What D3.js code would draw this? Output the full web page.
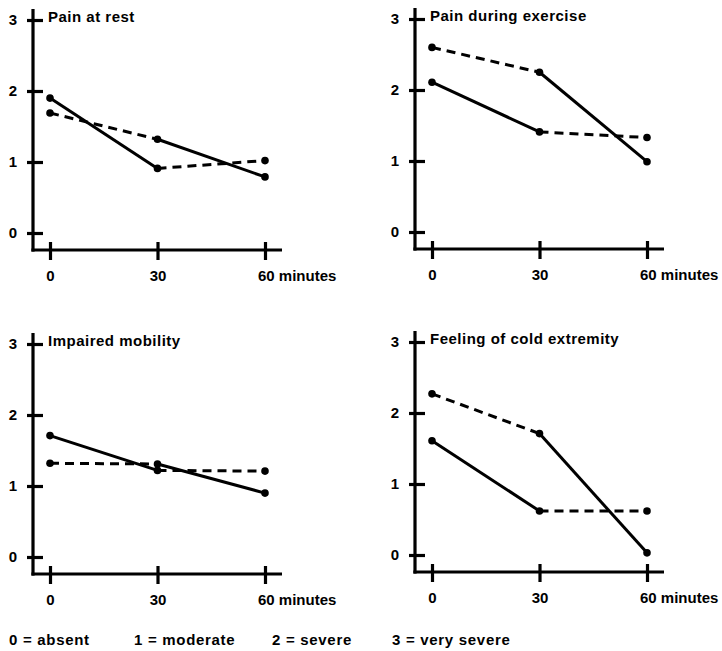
<!DOCTYPE html>
<html>
<head>
<meta charset="utf-8">
<script src="https://cdn.jsdelivr.net/npm/d3@7"></script>
<style>
  html, body { margin: 0; padding: 0; background: #fff; }
  svg text { font-family: "Liberation Sans", Arial, Helvetica, sans-serif; fill: #000; }
</style>
</head>
<body>
<svg id="chart" width="722" height="651"></svg>
<script>
// Symptom scores at 0, 30 and 60 minutes for two groups
const timePoints = [0, 30, 60];
const timeLabels = ["0", "30", "60 minutes"];
const scoreTicks = [0, 1, 2, 3];
const panelTitles = ["Pain at rest", "Pain during exercise", "Impaired mobility", "Feeling of cold extremity"];

// group A: solid first interval, dashed second
const groupA = [
  [1.90, 0.91, 1.02],
  [2.11, 1.41, 1.33],
  [1.71, 1.22, 1.21],
  [1.61, 0.62, 0.62]
];
// group B: dashed first interval, solid second
const groupB = [
  [1.69, 1.32, 0.79],
  [2.60, 2.25, 0.99],
  [1.32, 1.31, 0.90],
  [2.27, 1.71, 0.03]
];
const groupAStyles = ["solid", "dashed"];
const groupBStyles = ["dashed", "solid"];

const legendItems = ["0 = absent", "1 = moderate", "2 = severe", "3 = very severe"];

// layout
const panelAxisX = [33, 415, 33, 415];
const panelZeroY = [233, 232, 557, 555];
const legendX = [9, 134, 272, 392];
const legendY = 645;
const dash = "9,6";

const svg = d3.select("#chart");

panelTitles.forEach((title, p) => {
  const ax = panelAxisX[p];
  const zy = panelZeroY[p];
  const x = d3.scaleLinear().domain([0, 60]).range([ax + 17, ax + 232]);
  const y = d3.scaleLinear().domain([0, 3]).range([zy, zy - 213]);
  const baseY = zy + 17;
  const g = svg.append("g");

  // y axis with ticks crossing the line
  const yAxis = d3.axisLeft(y).tickValues(scoreTicks).tickFormat(d3.format("d")).tickSize(6).tickPadding(10);
  const yg = g.append("g").attr("transform", `translate(${ax},0)`).call(yAxis);
  yg.select(".domain").remove();
  yg.selectAll(".tick line").attr("x1", 10).attr("x2", -6).attr("stroke", "#000").attr("stroke-width", 3.2);
  yg.selectAll(".tick text").attr("font-size", 15).attr("font-weight", "bold").attr("x", -16);

  // x axis with ticks crossing the line
  const xAxis = d3.axisBottom(x).tickValues(timePoints).tickFormat((d, i) => timeLabels[i]).tickSize(10).tickPadding(12);
  const xg = g.append("g").attr("transform", `translate(0,${baseY})`).call(xAxis);
  xg.select(".domain").remove();
  xg.selectAll(".tick line").attr("y1", -8).attr("y2", 10).attr("stroke", "#000").attr("stroke-width", 3.2);
  xg.selectAll(".tick text").attr("font-size", 15).attr("font-weight", "bold").attr("y", 20)
    .attr("text-anchor", (d, i) => i === timePoints.length - 1 ? "start" : "middle")
    .attr("dx", (d, i) => i === timePoints.length - 1 ? "-0.5em" : 0);

  // axis lines
  g.append("line").attr("x1", ax).attr("x2", ax).attr("y1", y(3) - 11).attr("y2", baseY + 1.6)
    .attr("stroke", "#000").attr("stroke-width", 3.2);
  g.append("line").attr("x1", ax - 1.6).attr("x2", x(60) + 17).attr("y1", baseY).attr("y2", baseY)
    .attr("stroke", "#000").attr("stroke-width", 3.2);

  // panel title
  g.append("text").attr("x", ax + 15).attr("y", y(3) + 2)
    .attr("font-size", 15).attr("font-weight", "bold").attr("letter-spacing", 0.5)
    .text(title);

  // series segments and points
  [[groupA[p], groupAStyles], [groupB[p], groupBStyles]].forEach(([vals, styles]) => {
    for (let i = 0; i < vals.length - 1; i++) {
      g.append("line")
        .attr("x1", x(timePoints[i])).attr("y1", y(vals[i]))
        .attr("x2", x(timePoints[i + 1])).attr("y2", y(vals[i + 1]))
        .attr("stroke", "#000").attr("stroke-width", 3)
        .attr("stroke-dasharray", styles[i] === "dashed" ? dash : null);
    }
    g.selectAll(null).data(vals).enter().append("circle")
      .attr("cx", (d, i) => x(timePoints[i])).attr("cy", d => y(d))
      .attr("r", 3.8).attr("fill", "#000");
  });
});

// score legend
svg.append("g").selectAll("text").data(legendItems).enter().append("text")
  .attr("x", (d, i) => legendX[i]).attr("y", legendY)
  .attr("font-size", 15).attr("font-weight", "bold").attr("letter-spacing", 0.7)
  .text(d => d);
</script>
</body>
</html>
